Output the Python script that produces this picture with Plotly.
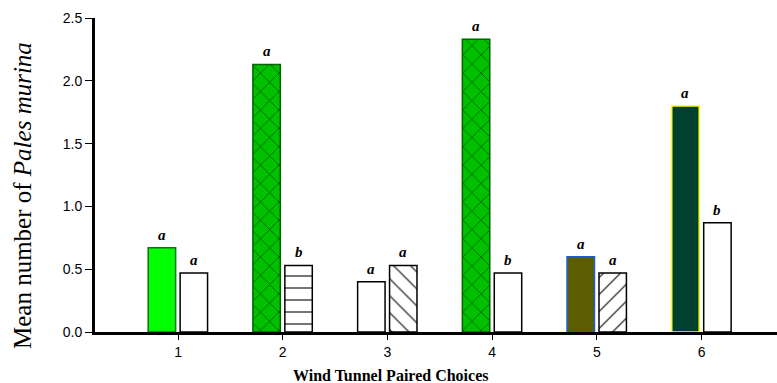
import plotly.graph_objects as go

# Paired choices in the wind tunnel
choices = [1, 2, 3, 4, 5, 6]
first_means = [0.67, 2.13, 0.40, 2.33, 0.60, 1.80]
second_means = [0.47, 0.53, 0.53, 0.47, 0.47, 0.87]
first_letters = ["a", "a", "a", "a", "a", "a"]
second_letters = ["a", "b", "a", "b", "a", "b"]
y_ticks = [0.0, 0.5, 1.0, 1.5, 2.0, 2.5]

# Bar styling per choice
first_fill = ["#00ff00", "#00c000", "#ffffff", "#00c000", "#5c5c00", "#00402e"]
first_edge = ["#107010", "#006400", "#000000", "#006400", "#1a5fd0", "#ffff00"]
first_shape = ["", "x", "", "x", "", ""]
first_fg = ["#005a00", "#005a00", "#000000", "#005a00", "#000000", "#000000"]

second_fill = ["#ffffff"] * 6
second_edge = ["#000000"] * 6
second_shape = ["", "-", "\\", "", "/", ""]
second_fg = ["#000000"] * 6

BAR_W = 0.262
LEFT_OFF = -0.285
RIGHT_OFF = 0.02

fig = go.Figure()


def add_bar(c, v, fill, edge, shape, fg, offset, size, solidity):
    pattern = dict(shape=shape)
    if shape:
        pattern = dict(shape=shape, fgcolor=fg, bgcolor=fill, fgopacity=1,
                       size=size, solidity=solidity, fillmode="overlay")
    fig.add_trace(go.Bar(
        x=[c], y=[v], width=BAR_W, offset=offset,
        marker=dict(color=fill, line=dict(color=edge, width=1.5), pattern=pattern),
        showlegend=False,
    ))


for i, c in enumerate(choices):
    add_bar(c, first_means[i], first_fill[i], first_edge[i], first_shape[i],
            first_fg[i], LEFT_OFF, 13, 0.12)
    add_bar(c, second_means[i], second_fill[i], second_edge[i], second_shape[i],
            second_fg[i], RIGHT_OFF, 12, 0.09)

annotations = []
letter_font = dict(family="Liberation Serif", size=15, color="#000000")
for c, v, t in zip(choices, first_means, first_letters):
    annotations.append(dict(x=c + LEFT_OFF + BAR_W / 2, y=v, text=f"<b><i>{t}</i></b>",
                            showarrow=False, yanchor="bottom", yshift=3, font=letter_font))
for c, v, t in zip(choices, second_means, second_letters):
    annotations.append(dict(x=c + RIGHT_OFF + BAR_W / 2, y=v, text=f"<b><i>{t}</i></b>",
                            showarrow=False, yanchor="bottom", yshift=3, font=letter_font))

# Axis titles
annotations.append(dict(
    x=0, y=0.433, xref="paper", yref="paper", xanchor="center", yanchor="middle",
    xshift=-73, textangle=-90, showarrow=False,
    text="Mean number of <i>Pales murina</i>",
    font=dict(family="Liberation Serif", size=25, color="#000000"),
))
annotations.append(dict(
    x=0.434, y=0, xref="paper", yref="paper", xanchor="center", yanchor="middle",
    yshift=-43, showarrow=False,
    text="<b>Wind Tunnel Paired Choices</b>",
    font=dict(family="Liberation Serif", size=16, color="#000000"),
))

fig.update_layout(
    width=777, height=383,
    margin=dict(l=95, r=0, t=18, b=51),
    paper_bgcolor="white", plot_bgcolor="white",
    barmode="overlay",
    annotations=annotations,
    xaxis=dict(
        range=[0.207, 6.72], tickmode="array", tickvals=choices,
        ticktext=[str(c) for c in choices],
        showline=True, linecolor="black", linewidth=3,
        ticks="outside", ticklen=5, tickwidth=1, tickcolor="black",
        showgrid=False, zeroline=False,
        tickfont=dict(family="Liberation Sans", size=14, color="#000000"),
    ),
    yaxis=dict(
        range=[0, 2.5], tickmode="array", tickvals=y_ticks,
        ticktext=[f"{t:.1f}" for t in y_ticks],
        showline=True, linecolor="black", linewidth=3,
        ticks="outside", ticklen=7, tickwidth=1, tickcolor="black",
        showgrid=False, zeroline=False,
        tickfont=dict(family="Liberation Sans", size=14, color="#000000"),
    ),
)

fig.write_html("out.html")
